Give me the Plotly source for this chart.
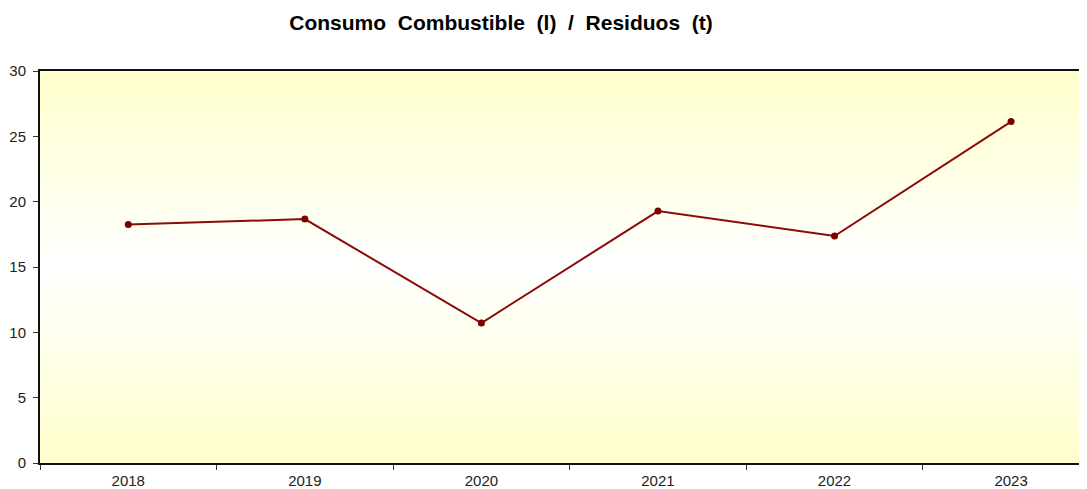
import plotly.graph_objects as go

years = ["2018", "2019", "2020", "2021", "2022", "2023"]
ratio = [18.25, 18.67, 10.71, 19.28, 17.37, 26.13]
y_ticks = [0, 5, 10, 15, 20, 25, 30]

fig = go.Figure()
fig.add_trace(go.Scatter(
    x=years, y=ratio, mode="lines+markers",
    line=dict(color="#8B0A0A", width=2),
    marker=dict(color="#7A0000", size=7),
    showlegend=False, hoverinfo="x+y",
))

# vertical gradient background: yellow top/bottom, white centre
shapes = []
n = 80
def col(t):
    d = min(1.0, abs(t - 0.5) / 0.5)
    b = int(round(255 - (255 - 204) * d))
    return f"rgb(255,255,{b})"
for i in range(n):
    shapes.append(dict(type="rect", xref="x domain", yref="y domain",
                       x0=0, x1=1, y0=i / n, y1=(i + 1) / n + 0.002,
                       fillcolor=col((i + 0.5) / n), line=dict(width=0),
                       layer="below"))

W, H = 1079, 481
fig.update_layout(
    width=W, height=H,
    margin=dict(l=32, r=0, t=63, b=26),
    paper_bgcolor="white", plot_bgcolor="white",
    shapes=shapes,
    title=dict(text="<b>Consumo  Combustible  (l)  /  Residuos  (t)</b>",
               x=493 / W, xanchor="center", y=1 - 15 / H, yanchor="middle",
               font=dict(family="Liberation Sans, Arial", size=21, color="black")),
    font=dict(family="Liberation Sans, Arial", size=15, color="#222222"),
    xaxis=dict(type="category", range=[-0.5, 5.43], showgrid=False,
               showline=True, linecolor="#111111", linewidth=2, mirror=True,
               ticks="outside", tickson="boundaries", ticklen=5, tickcolor="#333333",
               ticklabelstandoff=3,
               tickfont=dict(size=15, color="#222222"), zeroline=False),
    yaxis=dict(range=[0, 30], tickvals=y_ticks, showgrid=False,
               showline=True, linecolor="#111111", linewidth=2,
               ticks="outside", ticklen=5, tickcolor="#333333",
               ticklabelstandoff=4,
               tickfont=dict(size=15, color="#222222"), zeroline=False),
)

fig.write_html("out.html")
